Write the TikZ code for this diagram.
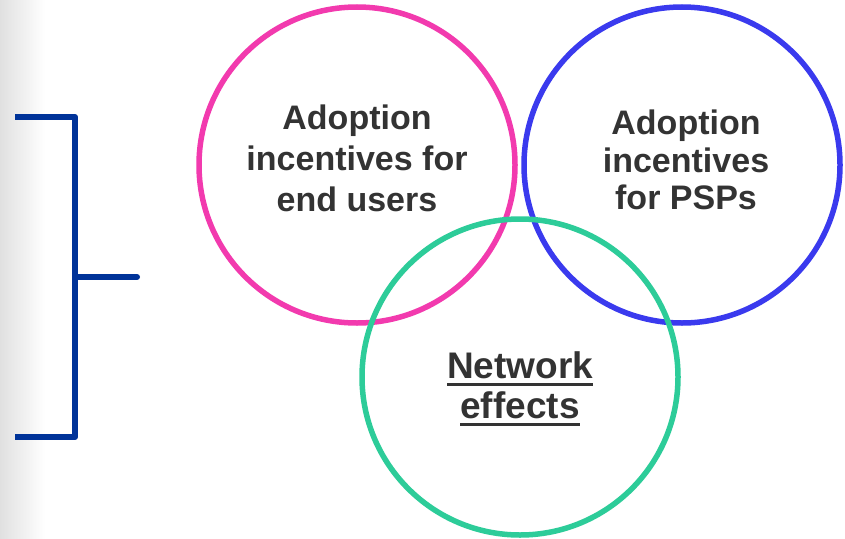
\documentclass[tikz,border=0pt]{standalone}
\usepackage{fontspec}
\setmainfont{Liberation Sans}
\definecolor{txt}{HTML}{333333}
\definecolor{pinkc}{HTML}{F23AAE}
\definecolor{bluec}{HTML}{3A3AEE}
\definecolor{greenc}{HTML}{2DCC99}
\definecolor{brk}{HTML}{003399}
\newcommand\thickul[1]{\setbox0\hbox{#1}\rlap{\vrule width\wd0 height -4pt depth 7pt}\box0}
\begin{document}
\begin{tikzpicture}[x=1pt,y=-1pt,
  ring/.style={draw, line width=5.5pt, circle, minimum size=316pt, inner sep=0pt},
  lbl/.style={text=txt, font=\fontsize{34}{41}\selectfont\bfseries, align=center},
  brkline/.style={draw=brk, line width=6pt, line cap=round, line join=round}]
\useasboundingbox (0,0) rectangle (845,538);
\fill[white] (0,0) rectangle (845,538);
\shade[left color=black!12, right color=white] (0,0) rectangle (45,538);
\node[ring, draw=pinkc] (pink) at (357,165) {};
\node[ring, draw=bluec] (blue) at (682,165) {};
\node[ring, draw=greenc] (green) at (520,377) {};
\node[lbl] (pt) at (357,158) {Adoption\\incentives for\\end users};
\node[lbl, font=\fontsize{34}{37.5}\selectfont\bfseries] (bt) at (686,160) {Adoption\\incentives\\for PSPs};
\node[lbl, font=\fontsize{37}{40}\selectfont\bfseries] (gt) at (520,389) {\thickul{Network}\\\thickul{effects}};
\coordinate (b1) at (15,117);
\coordinate (b2) at (75,117);
\coordinate (b3) at (75,437);
\coordinate (b4) at (15,437);
\coordinate (m1) at (75,277);
\coordinate (m2) at (137,277);
\draw[brkline, line cap=butt] (b1) -- (b2) -- (b3) -- (b4);
\draw[brkline] (m1) -- (m2);
\end{tikzpicture}
\end{document}
